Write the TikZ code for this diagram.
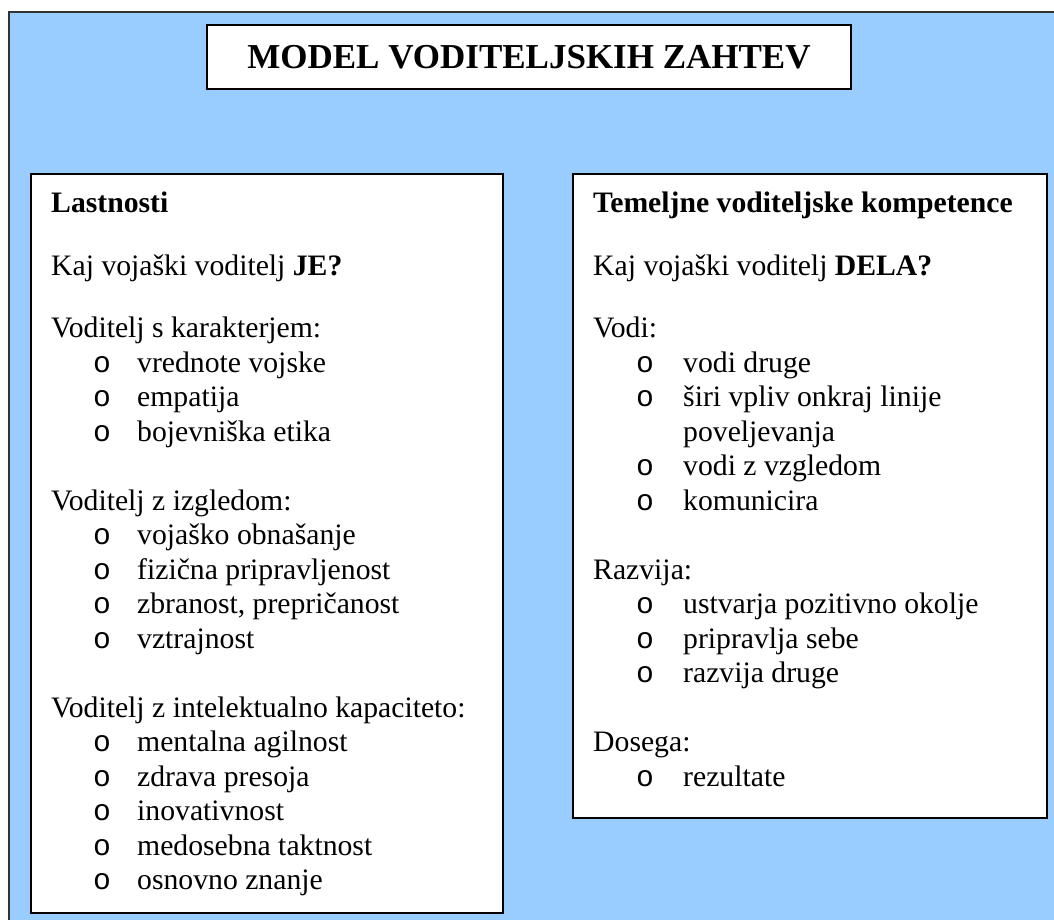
\documentclass[tikz,border=0pt]{standalone}
\usepackage{fontspec}
\setmainfont{Liberation Serif}
\newfontfamily\bulfont{Liberation Mono}
\definecolor{bgblue}{HTML}{99CCFF}
\begin{document}
\begin{tikzpicture}[x=1pt,y=-1pt,
  frame/.style={draw=black, line width=1.6pt, fill=white, inner sep=0pt, outer sep=0pt, anchor=north west, rectangle},
  txt/.style={anchor=base west, inner sep=0pt, font=\fontsize{29.7}{31.6}\selectfont},
  bul/.style={anchor=base west, inner sep=0pt, font=\fontsize{29.7}{31.6}\selectfont\bulfont},
  ttl/.style={inner sep=0pt, font=\fontsize{35}{40}\selectfont\bfseries}]
\useasboundingbox (0,0) rectangle (1054,920);
\clip (0,0) rectangle (1054,920);
% outer background panel
\node[draw=black!80, line width=1.5pt, fill=bgblue, inner sep=0pt, outer sep=0pt, anchor=north west,
      minimum width=1070pt, minimum height=930pt] (outer) at (9,12) {};
% title
\node[frame, minimum width=644pt, minimum height=64pt] (titlebox) at (207,25) {};
\node[ttl] (title) at (titlebox.center) {MODEL VODITELJSKIH ZAHTEV};
% left box
\node[frame, minimum width=472pt, minimum height=739pt] (leftbox) at (31,174) {};
% right box
\node[frame, minimum width=474pt, minimum height=644pt] (rightbox) at (573,174) {};

% left column text
\node[txt] (l0) at (51,212) {\textbf{Lastnosti}};
\node[txt] (l1) at (51,275) {Kaj vojaški voditelj \textbf{JE?}};
\node[txt] (l2) at (51,337.5) {Voditelj s karakterjem:};
\node[bul] (lb1) at (93,372) {o};   \node[txt] (lt1) at (137,372) {vrednote vojske};
\node[bul] (lb2) at (93,406.5) {o}; \node[txt] (lt2) at (137,406.5) {empatija};
\node[bul] (lb3) at (93,441) {o};   \node[txt] (lt3) at (137,441) {bojevniška etika};
\node[txt] (l3) at (51,510) {Voditelj z izgledom:};
\node[bul] (lb4) at (93,544.5) {o}; \node[txt] (lt4) at (137,544.5) {vojaško obnašanje};
\node[bul] (lb5) at (93,579) {o};   \node[txt] (lt5) at (137,579) {fizična pripravljenost};
\node[bul] (lb6) at (93,613.5) {o}; \node[txt] (lt6) at (137,613.5) {zbranost, prepričanost};
\node[bul] (lb7) at (93,648) {o};   \node[txt] (lt7) at (137,648) {vztrajnost};
\node[txt] (l4) at (51,717) {Voditelj z intelektualno kapaciteto:};
\node[bul] (lb8) at (93,751.5) {o};  \node[txt] (lt8) at (137,751.5) {mentalna agilnost};
\node[bul] (lb9) at (93,786) {o};    \node[txt] (lt9) at (137,786) {zdrava presoja};
\node[bul] (lb10) at (93,820.5) {o}; \node[txt] (lt10) at (137,820.5) {inovativnost};
\node[bul] (lb11) at (93,855) {o};   \node[txt] (lt11) at (137,855) {medosebna taktnost};
\node[bul] (lb12) at (93,889.5) {o}; \node[txt] (lt12) at (137,889.5) {osnovno znanje};

% right column text
\node[txt] (r0) at (593,212) {\textbf{Temeljne voditeljske kompetence}};
\node[txt] (r1) at (593,275) {Kaj vojaški voditelj \textbf{DELA?}};
\node[txt] (r2) at (593,337.5) {Vodi:};
\node[bul] (rb1) at (636,372) {o};   \node[txt] (rt1) at (683,372) {vodi druge};
\node[bul] (rb2) at (636,406.5) {o}; \node[txt] (rt2) at (683,406.5) {širi vpliv onkraj linije};
\node[txt] (rt2b) at (683,441) {poveljevanja};
\node[bul] (rb3) at (636,475.5) {o}; \node[txt] (rt3) at (683,475.5) {vodi z vzgledom};
\node[bul] (rb4) at (636,510) {o};   \node[txt] (rt4) at (683,510) {komunicira};
\node[txt] (r3) at (593,579) {Razvija:};
\node[bul] (rb5) at (636,613.5) {o}; \node[txt] (rt5) at (683,613.5) {ustvarja pozitivno okolje};
\node[bul] (rb6) at (636,648) {o};   \node[txt] (rt6) at (683,648) {pripravlja sebe};
\node[bul] (rb7) at (636,682.5) {o}; \node[txt] (rt7) at (683,682.5) {razvija druge};
\node[txt] (r4) at (593,751.5) {Dosega:};
\node[bul] (rb8) at (636,786) {o};   \node[txt] (rt8) at (683,786) {rezultate};
\end{tikzpicture}
\end{document}
